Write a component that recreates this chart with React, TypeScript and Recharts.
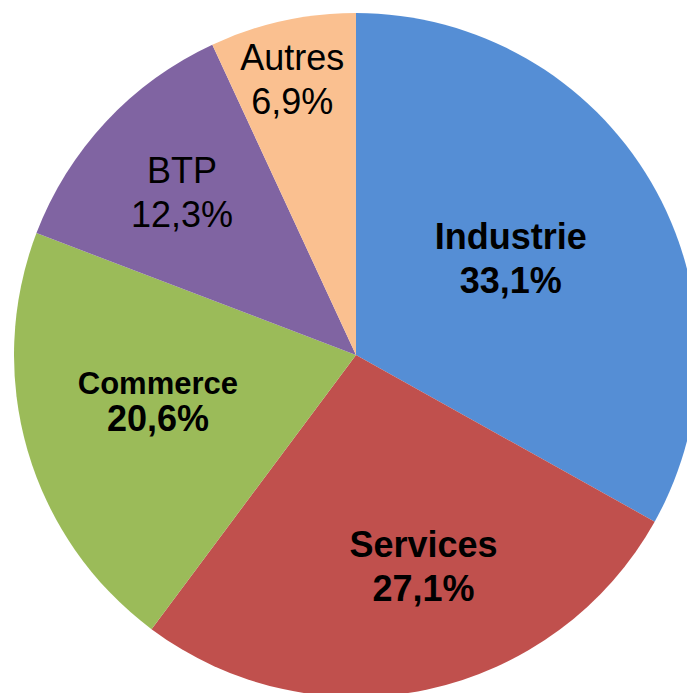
import React from 'react';
import { PieChart, Pie, Cell } from 'recharts';

const categories = ['Industrie', 'Services', 'Commerce', 'BTP', 'Autres'];
const shares = [33.1, 27.1, 20.6, 12.3, 6.9];
const colors = ['#558ED5', '#C0504D', '#9BBB59', '#8064A2', '#FAC090'];

const data = categories.map((name, i) => ({ name, value: shares[i] }));

// label placement tweaks (radius ratio, nudges) and text styles
const labelRatio = [0.535, 0.65, 0.594, 0.696, 0.825];
const labelNudge = [[-3, -4], [21, -6], [-3, -11], [0, -1], [-3, 0]];
const labelBold = [true, true, true, false, false];
const nameSize = [36, 36, 31, 36, 36];
const RAD = Math.PI / 180;

const fmt = (v: number) => v.toFixed(1).replace('.', ',') + '%';

const renderLabel = (props: any) => {
  const { cx, cy, midAngle, outerRadius, index } = props;
  const r = outerRadius * labelRatio[index];
  const x = cx + r * Math.cos(-midAngle * RAD) + labelNudge[index][0];
  const y = cy + r * Math.sin(-midAngle * RAD) + labelNudge[index][1];
  const weight = labelBold[index] ? 'bold' : 'normal';
  const ns = nameSize[index];
  const b1 = index === 2 ? y - 7 : y - 9;
  const b2 = index === 2 ? y + 30 : y + 35;
  return (
    <text
      textAnchor="middle"
      fill="#000"
      fontFamily="'Liberation Sans', Arial, sans-serif"
      fontWeight={weight}
    >
      <tspan x={x} y={b1} fontSize={ns}>{categories[index]}</tspan>
      <tspan x={x} y={b2} fontSize={36}>{fmt(shares[index])}</tspan>
    </text>
  );
};

export default function App() {
  return (
    <div
      style={{
        position: 'fixed',
        left: 0,
        top: 0,
        width: 687,
        height: 693,
        overflow: 'hidden',
        background: '#fff',
      }}
    >
      <PieChart width={720} height={720} margin={{ top: 0, right: 0, bottom: 0, left: 0 }}>
        <Pie
          data={data}
          dataKey="value"
          nameKey="name"
          cx={356}
          cy={355}
          outerRadius={342}
          startAngle={90}
          endAngle={-270}
          stroke="none"
          labelLine={false}
          label={renderLabel}
          isAnimationActive={false}
        >
          {data.map((d, i) => (
            <Cell key={d.name} fill={colors[i]} />
          ))}
        </Pie>
      </PieChart>
    </div>
  );
}
